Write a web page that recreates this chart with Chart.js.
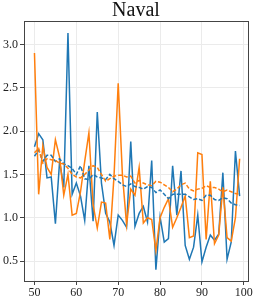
<!DOCTYPE html>
<html>
<head>
<meta charset="utf-8">
<script src="https://cdn.jsdelivr.net/npm/chart.js@4/dist/chart.umd.min.js"></script>
<style>
    html, body { margin: 0; padding: 0; background: #fff; }
    #wrap { width: 257px; height: 302px; }
</style>
</head>
<body>
<div id="wrap"><canvas id="navalChart"></canvas></div>
<script>
const epochs = [
    50, 51, 52, 53, 54, 55, 56, 57, 58, 59,
    60, 61, 62, 63, 64, 65, 66, 67, 68, 69,
    70, 71, 72, 73, 74, 75, 76, 77, 78, 79,
    80, 81, 82, 83, 84, 85, 86, 87, 88, 89,
    90, 91, 92, 93, 94, 95, 96, 97, 98, 99
];

const blueRaw = [
    1.82, 1.97, 1.90, 1.46, 1.47, 0.93, 1.65, 1.35, 3.13, 1.27,
    1.40, 1.25, 0.97, 1.60, 0.96, 2.22, 1.40, 1.05, 0.95, 0.68,
    1.03, 0.97, 0.89, 1.88, 0.90, 1.05, 1.13, 0.95, 1.66, 0.40,
    1.01, 0.72, 0.76, 1.60, 1.03, 1.54, 0.68, 0.52, 0.66, 1.03,
    0.49, 0.66, 0.80, 0.74, 0.81, 1.52, 0.52, 0.72, 1.77, 1.25
];

const orangeRaw = [
    2.90, 1.27, 1.83, 1.58, 1.50, 1.90, 1.70, 1.26, 1.50, 1.03,
    1.05, 1.30, 1.65, 1.98, 1.15, 0.88, 1.18, 1.17, 0.75, 1.48,
    2.55, 1.50, 0.92, 1.33, 1.26, 1.58, 0.94, 1.00, 0.98, 0.62,
    1.00, 1.12, 1.22, 0.89, 1.00, 1.12, 1.25, 0.77, 0.79, 1.75,
    1.73, 0.75, 1.42, 0.70, 0.80, 1.35, 0.77, 0.73, 1.00, 1.68
];

const blueSmooth = [
    1.71, 1.78, 1.65, 1.72, 1.72, 1.65, 1.68, 1.62, 1.60, 1.57,
    1.50, 1.60, 1.45, 1.44, 1.50, 1.47, 1.46, 1.44, 1.50, 1.45,
    1.42, 1.38, 1.36, 1.39, 1.36, 1.35, 1.33, 1.36, 1.35, 1.29,
    1.32, 1.27, 1.22, 1.27, 1.27, 1.27, 1.27, 1.24, 1.21, 1.22,
    1.20, 1.26, 1.26, 1.21, 1.20, 1.23, 1.22, 1.17, 1.15, 1.14
];

const orangeSmooth = [
    1.75, 1.80, 1.63, 1.68, 1.67, 1.66, 1.63, 1.62, 1.57, 1.50,
    1.47, 1.46, 1.50, 1.55, 1.60, 1.58, 1.50, 1.42, 1.45, 1.48,
    1.49, 1.49, 1.47, 1.48, 1.40, 1.43, 1.40, 1.38, 1.37, 1.42,
    1.41, 1.38, 1.35, 1.30, 1.33, 1.38, 1.40, 1.33, 1.31, 1.33,
    1.34, 1.37, 1.35, 1.35, 1.33, 1.30, 1.32, 1.30, 1.28, 1.27
];

const xTicks = [50, 60, 70, 80, 90, 100];
const yTicks = [0.5, 1.0, 1.5, 2.0, 2.5, 3.0];

const BLUE = '#1f77b4';
const ORANGE = '#ff7f0e';
const FONT = "'Liberation Serif', 'DejaVu Serif', serif";

function points(values) {
    return epochs.map((x, i) => ({ x: x, y: values[i] }));
}

// box round the plot area, like the matplotlib frame
const frame = {
    id: 'frame',
    afterDraw(chart) {
        const { ctx, chartArea } = chart;
        ctx.save();
        ctx.strokeStyle = '#444';
        ctx.lineWidth = 1;
        ctx.strokeRect(
            Math.round(chartArea.left) + 0.5,
            Math.round(chartArea.top) + 0.5,
            Math.round(chartArea.right - chartArea.left),
            Math.round(chartArea.bottom - chartArea.top)
        );
        ctx.restore();
    }
};

function lineSet(label, values, color, dashed) {
    return {
        label: label,
        data: points(values),
        borderColor: color,
        backgroundColor: color,
        borderWidth: 1.5,
        borderDash: dashed ? [4, 2] : [],
        pointRadius: 0,
        tension: 0,
        fill: false,
    };
}

new Chart(document.getElementById('navalChart'), {
    type: 'line',
    data: {
        datasets: [
            lineSet('orange avg', orangeSmooth, ORANGE, true),
            lineSet('blue avg', blueSmooth, BLUE, true),
            lineSet('orange', orangeRaw, ORANGE, false),
            lineSet('blue', blueRaw, BLUE, false),
        ]
    },
    options: {
        responsive: true,
        maintainAspectRatio: false,
        animation: false,
        layout: {
            padding: { left: 0, right: 9, top: 0, bottom: 0 }
        },
        plugins: {
            legend: { display: false },
            tooltip: { enabled: false },
            title: {
                display: true,
                text: 'Naval',
                fullSize: false,
                color: '#111',
                font: { family: FONT, size: 20, weight: 'normal', lineHeight: 1.05 },
                padding: { top: 0, bottom: 0 }
            }
        },
        scales: {
            x: {
                type: 'linear',
                min: 47.5,
                max: 101,
                afterBuildTicks(scale) {
                    scale.ticks = xTicks.map(v => ({ value: v }));
                },
                afterFit(scale) {
                    scale.height = 21;
                },
                border: { display: false },
                grid: {
                    color: '#ebebeb',
                    tickColor: '#444',
                    tickLength: 4,
                },
                ticks: {
                    color: '#222',
                    padding: 1,
                    maxRotation: 0,
                    font: { family: FONT, size: 12 },
                }
            },
            y: {
                min: 0.27,
                max: 3.27,
                afterBuildTicks(scale) {
                    scale.ticks = yTicks.map(v => ({ value: v }));
                },
                afterFit(scale) {
                    scale.width = 24;
                },
                border: { display: false },
                grid: {
                    color: '#ebebeb',
                    tickColor: '#444',
                    tickLength: 4,
                },
                ticks: {
                    color: '#222',
                    padding: 2,
                    font: { family: FONT, size: 12 },
                    callback: v => v.toFixed(1),
                }
            }
        }
    },
    plugins: [frame]
});
</script>
</body>
</html>
